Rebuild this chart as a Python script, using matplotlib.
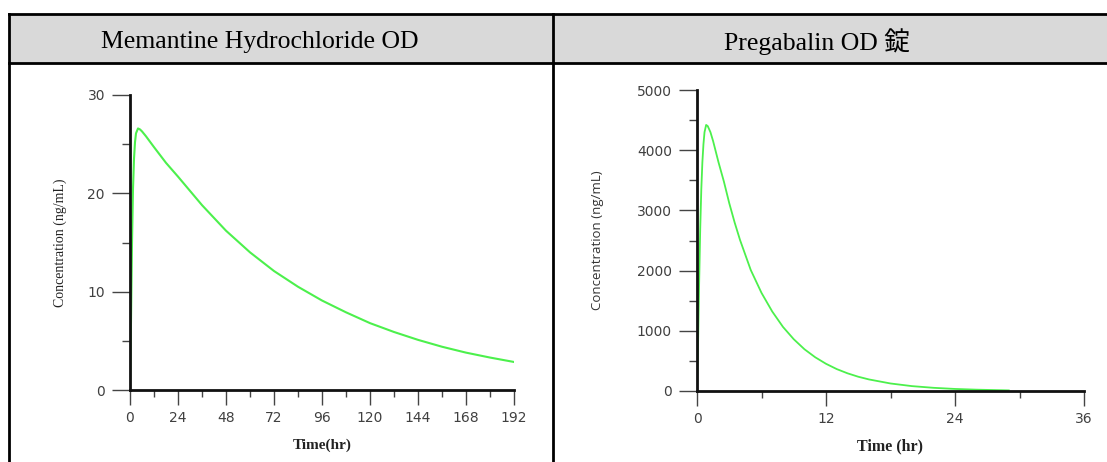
import matplotlib
matplotlib.use("Agg")
import matplotlib.pyplot as plt
from matplotlib.lines import Line2D
from matplotlib.patches import Rectangle
from matplotlib.ticker import MultipleLocator

# ---- data ----
titles = ["Memantine Hydrochloride OD", "Pregabalin OD 錠"]

mem_t = [0, 0.5, 1, 1.5, 2, 2.5, 3, 4, 5, 6, 8, 12, 18, 24, 36, 48, 60, 72, 84,
         96, 108, 120, 132, 144, 156, 168, 180, 192]
mem_c = [0, 7, 15, 20.5, 23.5, 25.2, 26.1, 26.6, 26.5, 26.3, 25.8, 24.7, 23.1,
         21.7, 18.8, 16.2, 14.0, 12.1, 10.5, 9.1, 7.9, 6.8, 5.9, 5.1, 4.4, 3.8,
         3.3, 2.85]
mem_xticks = [0, 24, 48, 72, 96, 120, 144, 168, 192]
mem_yticks = [0, 10, 20, 30]

pre_t = [0, 0.1, 0.2, 0.3, 0.4, 0.5, 0.6, 0.7, 0.85, 1.0, 1.25, 1.5, 2.0, 2.5,
         3, 3.5, 4, 5, 6, 7, 8, 9, 10, 11, 12, 13, 14, 15, 16, 18, 20, 22, 24,
         26, 28, 29]
pre_c = [0, 800, 1800, 2700, 3350, 3800, 4100, 4300, 4420, 4400, 4300, 4150,
         3800, 3480, 3120, 2800, 2510, 2010, 1630, 1320, 1064, 860, 693, 560,
         452, 364, 294, 237, 192, 125, 81, 53, 34, 22, 14, 10]
pre_xticks = [0, 12, 24, 36]
pre_yticks = [0, 1000, 2000, 3000, 4000, 5000]

W, H = 1107, 462
fig = plt.figure(figsize=(W / 100, H / 100), dpi=100)

def fx(x):
    return x / W

def fy(y):
    return 1 - y / H

# ---- table frame ----
fig.patches.append(Rectangle((fx(9), fy(63)), fx(W - 9), fy(14) - fy(63),
                             transform=fig.transFigure, facecolor="#d9d9d9",
                             edgecolor="none", zorder=0))
lw = 2.0
for (x0, y0, x1, y1) in [(9, 14, W, 14), (9, 63, W, 63), (9, 14, 9, H),
                         (553, 14, 553, H)]:
    fig.lines.append(Line2D([fx(x0), fx(x1)], [fy(y0), fy(y1)],
                            transform=fig.transFigure, color="black",
                            linewidth=lw, zorder=1))

serif = ["Liberation Serif", "Noto Sans CJK JP"]
fig.text(fx(260), fy(42), titles[0], ha="center", va="center",
         fontsize=18.5, family=serif)
fig.text(fx(817), fy(42), titles[1], ha="center", va="center",
         fontsize=18.5, family=serif)

green = "#4cf04c"
tick_col = "#444444"

def style(ax, xticks, yticks, xminor, yminor, xlim, ylim, fs):
    ax.set_xlim(*xlim)
    ax.set_ylim(*ylim)
    for s in ["top", "right"]:
        ax.spines[s].set_visible(False)
    for s in ["left", "bottom"]:
        ax.spines[s].set_linewidth(2.0)
        ax.spines[s].set_color("#111111")
        ax.spines[s].set_zorder(3)
    ax.set_xticks(xticks)
    ax.set_yticks(yticks)
    ax.xaxis.set_minor_locator(MultipleLocator(xminor))
    ax.yaxis.set_minor_locator(MultipleLocator(yminor))
    ax.tick_params(axis="y", which="major", length=13, width=1.0,
                   color=tick_col, pad=5, labelsize=fs, labelcolor="#404040")
    ax.tick_params(axis="y", which="minor", length=6, width=1.0,
                   color=tick_col)
    ax.tick_params(axis="x", which="major", length=11, width=1.0,
                   color=tick_col, pad=4, labelsize=fs, labelcolor="#404040")
    ax.tick_params(axis="x", which="minor", length=5, width=1.0,
                   color=tick_col)
    for lab in ax.get_xticklabels() + ax.get_yticklabels():
        lab.set_family("DejaVu Sans")
    ax.patch.set_alpha(0)

# ---- left chart ----
ax1 = fig.add_axes([fx(130), fy(390), fx(384), fy(95) - fy(390)])
ax1.plot(mem_t, mem_c, color=green, linewidth=1.5, zorder=2)
style(ax1, mem_xticks, mem_yticks, 12, 5, (0, 192), (0, 30), 10)
fig.text(fx(322), fy(445), "Time(hr)", ha="center", va="center",
         fontsize=11, family="Liberation Serif", weight="bold", color="#222222")
fig.text(fx(60), fy(243), "Concentration (ng/mL)", ha="center", va="center",
         rotation=90, fontsize=10, family="Liberation Serif", color="#222222")

# ---- right chart ----
ax2 = fig.add_axes([fx(697), fy(391), fx(387), fy(90) - fy(391)])
ax2.plot(pre_t, pre_c, color=green, linewidth=1.3, zorder=2)
style(ax2, pre_xticks, pre_yticks, 6, 500, (0, 36), (0, 5000), 10)
fig.text(fx(890), fy(446), "Time (hr)", ha="center", va="center",
         fontsize=11.5, family="Liberation Serif", weight="bold", color="#222222")
fig.text(fx(598), fy(240), "Concentration (ng/mL)", ha="center", va="center",
         rotation=90, fontsize=9.5, family="Open Sans", color="#333333")

fig.savefig("out.png", dpi=100)
